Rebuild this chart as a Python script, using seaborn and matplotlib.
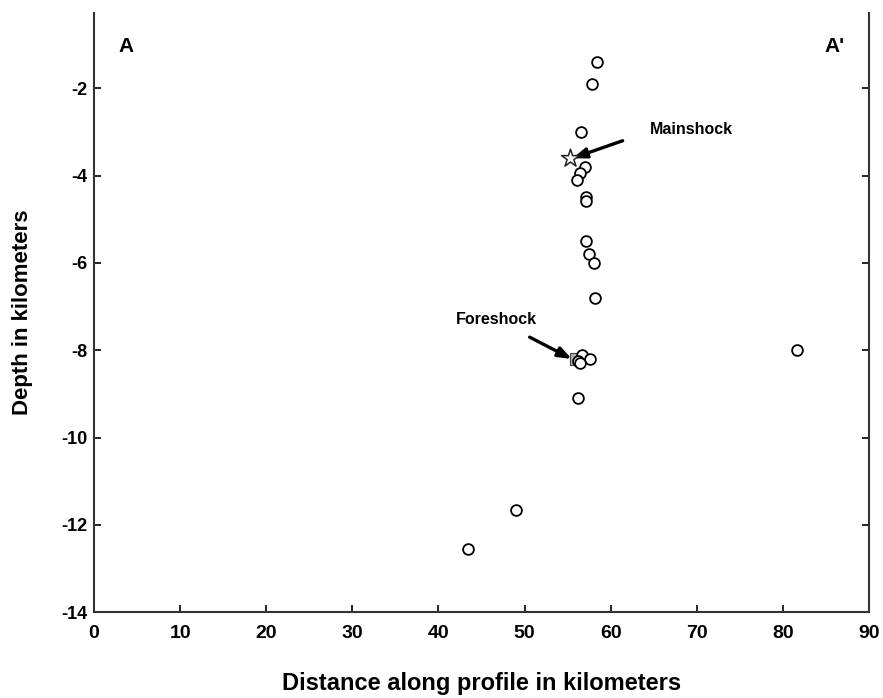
import pandas as pd
import numpy as np
import seaborn as sns
import matplotlib.pyplot as plt

# aftershock locations (distance km, depth km)
dist = [58.4, 57.8, 56.6, 57.0, 56.4, 56.1, 57.1, 57.1, 57.1, 57.5, 58.1, 58.2,
        56.7, 57.6, 56.2, 56.4, 56.2, 81.6, 49.0, 43.4]
depth = [-1.4, -1.9, -3.0, -3.8, -3.95, -4.1, -4.5, -4.58, -5.5, -5.8, -6.0, -6.8,
         -8.1, -8.2, -8.25, -8.3, -9.1, -8.0, -11.65, -12.55]

main_x, main_y = [55.3], [-3.6]
fore_x, fore_y = [56.0], [-8.2]

xticks = [0, 10, 20, 30, 40, 50, 60, 70, 80, 90]
yticks = [-14, -12, -10, -8, -6, -4, -2]

sns.set_style("white")
plt.rcParams['font.family'] = ['Liberation Sans', 'DejaVu Sans']
plt.rcParams['font.weight'] = 'bold'
plt.rcParams['axes.unicode_minus'] = False
plt.rcParams['text.color'] = 'black'
plt.rcParams['axes.labelcolor'] = 'black'

df = pd.DataFrame({"dist": dist, "depth": depth})

fig = plt.figure(figsize=(8.83, 6.98), dpi=100)
ax = fig.add_axes([0.1065, 0.123, 0.8775, 0.858])

sns.scatterplot(data=df, x="dist", y="depth", ax=ax, marker="o", s=60,
                facecolor="white", edgecolor="black", linewidth=1.3, zorder=3)
sns.scatterplot(x=fore_x, y=fore_y, ax=ax, marker="s", s=70,
                color="#b0b0b0", edgecolor="#444444", linewidth=0.8, zorder=2)
sns.scatterplot(x=main_x, y=main_y, ax=ax, marker="*", s=180,
                facecolor="white", edgecolor="#222222", linewidth=1.1, zorder=4)

ax.set_xlim(0, 90)
ax.set_ylim(-14, -0.28)
ax.set_xticks(xticks)
ax.set_yticks(yticks)
ax.tick_params(direction="in", length=5, width=1.2, colors="black")
ax.tick_params(axis="y", right=True, left=True, labelsize=13, pad=5)
ax.tick_params(axis="x", bottom=True, top=False, labelsize=14, pad=9)
for lab in ax.get_xticklabels() + ax.get_yticklabels():
    lab.set_fontweight("bold")
ax.spines["top"].set_visible(False)
for s in ["left", "right", "bottom"]:
    ax.spines[s].set_color("#333333")
    ax.spines[s].set_linewidth(1.5)

ax.set_xlabel("Distance along profile in kilometers", fontsize=17, fontweight="bold", labelpad=22)
ax.set_ylabel("Depth in kilometers", fontsize=16, fontweight="bold", labelpad=20)

ax.text(3.7, -1.05, "A", fontsize=15, fontweight="bold", ha="center", va="center")
ax.text(86, -1.05, "A'", fontsize=15, fontweight="bold", ha="center", va="center")

arrow = dict(arrowstyle="-|>,head_length=0.8,head_width=0.3", color="black", lw=2.4,
             shrinkA=0, shrinkB=0)
ax.text(64.6, -2.95, "Mainshock", fontsize=11.5, fontweight="bold", va="center", ha="left")
ax.annotate("", xy=(55.6, -3.6), xytext=(61.4, -3.2), arrowprops=arrow)
ax.text(42.0, -7.3, "Foreshock", fontsize=11.5, fontweight="bold", va="center", ha="left")
ax.annotate("", xy=(55.5, -8.2), xytext=(50.6, -7.7), arrowprops=arrow)

fig.savefig("out.png", dpi=100)
